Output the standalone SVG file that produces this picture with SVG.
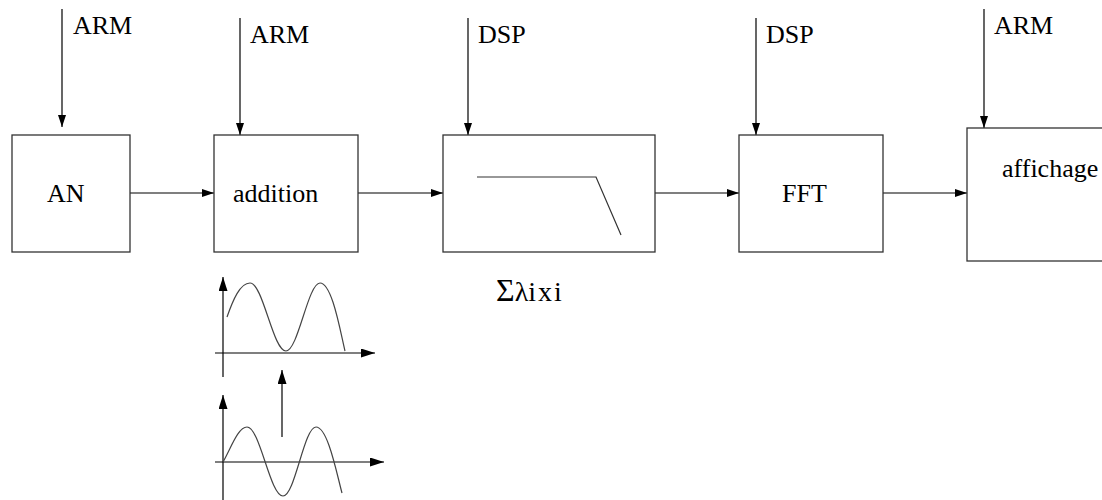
<svg xmlns="http://www.w3.org/2000/svg" width="1102" height="500" viewBox="0 0 1102 500">
<defs>
<style>
.box{fill:#fff;stroke:#333;stroke-width:1.3}
.lbl{font-family:"Liberation Serif","Times New Roman",serif;font-size:26px;fill:#000}
.ar{stroke:#000;stroke-width:1.2;fill:none;marker-end:url(#ah)}
.ax{stroke:#000;stroke-width:1.2;fill:none;marker-end:url(#ah2)}
.wave{stroke:#444;stroke-width:1.2;fill:none}
</style>
<marker id="ah" markerUnits="userSpaceOnUse" markerWidth="13" markerHeight="9" refX="12" refY="4" orient="auto">
<path d="M0,0 L12,4 L0,8 z" fill="#000"/>
</marker>
<marker id="ah2" markerUnits="userSpaceOnUse" markerWidth="15" markerHeight="10" refX="14" refY="4.5" orient="auto">
<path d="M0,0 L14,4.5 L0,9 z" fill="#000"/>
</marker>
</defs>
<rect width="1102" height="500" fill="#fff"/>

<g id="connectors">
<line class="ar" x1="62" y1="9" x2="62" y2="127"/>
<line class="ar" x1="240" y1="18" x2="240" y2="135"/>
<line class="ar" x1="468" y1="18" x2="468" y2="135"/>
<line class="ar" x1="756" y1="18" x2="756" y2="135"/>
<line class="ar" x1="984" y1="9" x2="984" y2="128"/>
<line class="ar" x1="130" y1="193" x2="214" y2="193"/>
<line class="ar" x1="358" y1="193" x2="443" y2="193"/>
<line class="ar" x1="655" y1="193" x2="739" y2="193"/>
<line class="ar" x1="883" y1="193" x2="967" y2="193"/>
</g>

<g id="labels">
<text class="lbl" x="73" y="34">ARM</text>
<text class="lbl" x="250" y="43">ARM</text>
<text class="lbl" x="478" y="43">DSP</text>
<text class="lbl" x="766" y="43">DSP</text>
<text class="lbl" x="994" y="34">ARM</text>
</g>

<g id="node-an">
<rect class="box" x="12" y="135" width="118" height="117"/>
<text class="lbl" x="47" y="202">AN</text>
</g>

<g id="node-addition">
<rect class="box" x="214" y="135" width="144" height="117"/>
<text class="lbl" x="233" y="202">addition</text>
</g>

<g id="node-filter">
<rect class="box" x="443" y="135" width="212" height="117"/>
<polyline points="477,177 596,177 621,235" fill="none" stroke="#333" stroke-width="1.2"/>
<text class="lbl" x="496" y="301"><tspan font-size="32">Σ</tspan><tspan font-size="28">λ</tspan><tspan font-size="28" letter-spacing="2">ixi</tspan></text>
</g>

<g id="node-fft">
<rect class="box" x="739" y="135" width="144" height="117"/>
<text class="lbl" x="782" y="202">FFT</text>
</g>

<g id="node-affichage">
<rect class="box" x="967" y="128" width="200" height="133"/>
<text class="lbl" x="1002" y="177">affichage</text>
</g>

<g id="graphs">
<line class="ax" x1="223" y1="377" x2="223" y2="277"/>
<line class="ax" x1="215" y1="353" x2="375" y2="353"/>
<path class="wave" d="M227,317 C233,300 240,283 250,283 C263,283 273,351 286,351 C298,351 308,283 320,283 C332,283 340,330 345,351"/>
<line class="ax" x1="282" y1="437" x2="282" y2="370"/>
<line class="ax" x1="223" y1="500" x2="223" y2="395"/>
<line class="ax" x1="215" y1="462" x2="384" y2="462"/>
<path class="wave" d="M223,462 C231,448 238,427 247,427 C260,427 270,496 283,496 C295,496 304,427 316,427 C328,427 337,475 342,493"/>
</g>
</svg>
